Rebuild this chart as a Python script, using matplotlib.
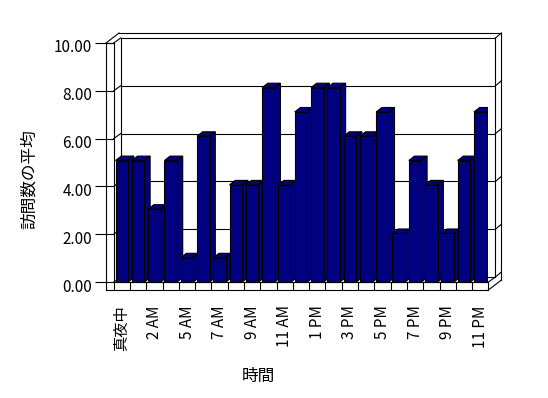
import numpy as np
import matplotlib
matplotlib.use('Agg')
import matplotlib.pyplot as plt
import matplotlib.transforms as mtransforms
from matplotlib.patches import Polygon

plt.rcParams['font.family'] = ['Noto Sans CJK JP', 'DejaVu Sans']

# data
hours = ['真夜中', '1 AM', '2 AM', '4 AM', '5 AM', '6 AM', '7 AM', '8 AM', '9 AM',
         '10 AM', '11 AM', '正午', '1 PM', '2 PM', '3 PM', '4 PM', '5 PM', '6 PM',
         '7 PM', '8 PM', '9 PM', '10 PM', '11 PM']
avg_visits = [5, 5, 3, 5, 1, 6, 1, 4, 4, 8, 4, 7, 8, 8, 6, 6, 7, 2, 5, 4, 2, 5, 7]
y_ticks = [0, 2, 4, 6, 8, 10]
y_tick_labels = ['0.00', '2.00', '4.00', '6.00', '8.00', '10.00']
x_title = '時間'
y_title = '訪問数の平均'

NAVY = '#000080'
LW = 0.8

# pixel scale of the axes (used for the fake 3d depth)
PX_X = 16.29   # px per category
PX_Y = 24.3    # px per unit
FRONT = 23.9 / 24.3  # front plane is slightly smaller than the bar plane


def off(dx, dy):
    return dx / PX_X, dy / PX_Y


fig = plt.figure(figsize=(5.48, 3.98), dpi=100)
ax = fig.add_axes([113.7 / 548, 108 / 398, 374.7 / 548, 251 / 398])
n = len(avg_visits)
x = np.arange(n)
x0, x1 = -0.5, n - 0.5
yb = -8 / PX_Y
ax.set_xlim(x0, x1)
ax.set_ylim(yb, 243 / PX_Y)
ax.set_facecolor('none')
for s in ax.spines.values():
    s.set_visible(False)

hx, hy = off(7, 5)      # back wall inner face
fx, fy = off(13, 10)    # back wall outer face
wx = 7.7 / PX_X         # left wall thickness
ytop = y_ticks[-1] * FRONT


def seg(p, q, z=1):
    ax.plot([p[0], q[0]], [p[1], q[1]], color='black', lw=LW, zorder=z,
            clip_on=False, solid_capstyle='projecting')


# walls
seg((x0 - wx, yb), (x0 - wx, ytop))
seg((x0 - wx, ytop), (x0, ytop))
seg((x0, yb), (x0, ytop))
seg((x0 - wx, ytop), (x0 - wx + fx, ytop + fy))
seg((x0 - wx + fx, ytop + fy), (x1 + fx, ytop + fy))
seg((x0 + hx, hy), (x0 + hx, ytop + hy))
seg((x1 + hx, hy), (x1 + hx, ytop + hy))
seg((x1 + fx, yb + fy), (x1 + fx, ytop + fy))

# floor
seg((x0 - wx, yb), (x1, yb), 5)
seg((x0, 0), (x1, 0), 5)
seg((x1, yb), (x1, 0), 5)
seg((x1, yb), (x1 + fx, yb + fy), 5)
seg((x1, 0), (x1 + hx, hy), 5)
for b in x[:-1] + 0.5:
    seg((b, yb), (b, 0), 5)

# gridlines on the walls
for v in y_ticks:
    y = v * FRONT
    seg((x0, y), (x0 + hx, y + hy))
    seg((x0 + hx, y + hy), (x1 + hx, y + hy))
    seg((x1 + hx, y + hy), (x1 + fx, y + fy))

# bars: top and side faces, then fronts
bar_w = 0.774
bdx, bdy = off(5.7, 4.4)
for xi, v in zip(x, avg_visits):
    l, r = xi - bar_w / 2, xi + bar_w / 2
    ax.add_patch(Polygon([(l, v), (r, v), (r + bdx, v + bdy), (l + bdx, v + bdy)],
                         fc=NAVY, ec='black', lw=LW, zorder=3))
    ax.add_patch(Polygon([(r, 0), (r, v), (r + bdx, v + bdy), (r + bdx, bdy)],
                         fc=NAVY, ec='black', lw=LW, zorder=3))
ax.bar(x, avg_visits, width=bar_w, color=NAVY, edgecolor='black', linewidth=LW, zorder=4)

# axes ticks
ax.set_yticks([v * FRONT for v in y_ticks], y_tick_labels, fontsize=11)
ax.tick_params(axis='y', length=13.5, width=LW, pad=2)
shift_down = mtransforms.ScaledTranslation(0, -3 / 100, fig.dpi_scale_trans)
for lab in ax.get_yticklabels():
    lab.set_transform(lab.get_transform() + shift_down)
ax.set_xticks(x[::2], hours[::2], rotation=90, fontsize=11)
ax.tick_params(axis='x', length=0, pad=11)

fig.text(29 / 548, 1 - 179 / 398, y_title, rotation=90, fontsize=12,
         ha='center', va='center')
fig.text(258 / 548, 1 - 376 / 398, x_title, fontsize=12, ha='center', va='center')

fig.savefig('out.png', dpi=100)
